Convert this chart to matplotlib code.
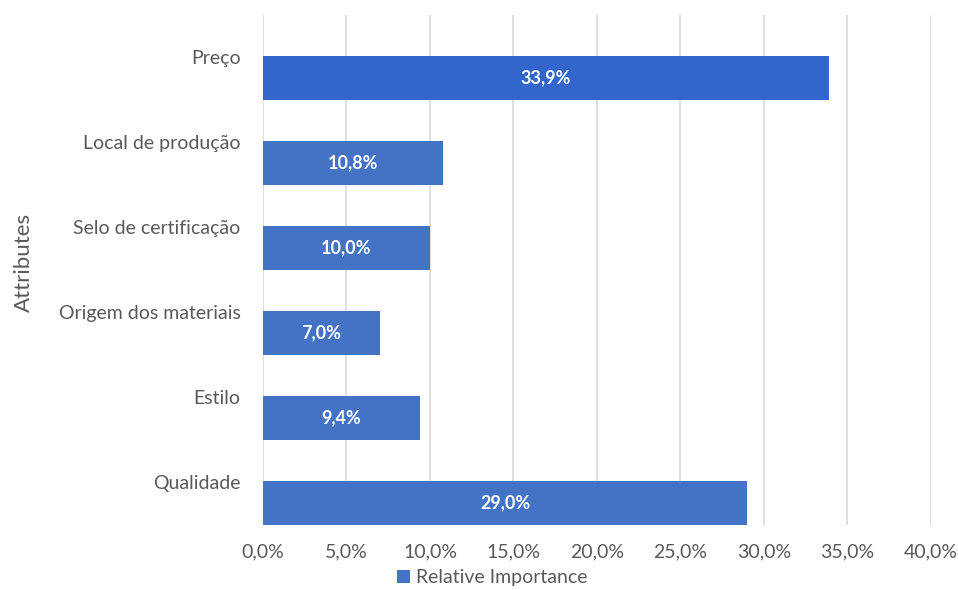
"""
Relative importance of attributes - horizontal bar chart
"""

import matplotlib
matplotlib.use("Agg")
import matplotlib.pyplot as plt
from matplotlib.patches import Patch

attributes = ["Preço", "Local de produção", "Selo de certificação",
              "Origem dos materiais", "Estilo", "Qualidade"]
importance = [33.9, 10.8, 10.0, 7.0, 9.4, 29.0]
x_ticks = [0, 5, 10, 15, 20, 25, 30, 35, 40]

plt.rcParams['font.family'] = ['Lato', 'DejaVu Sans']

text_grey = "#595959"
bar_colors = ["#3366CC"] + ["#4472C4"] * (len(attributes) - 1)


def fmt_pct(v):
    return f"{v:.1f}%".replace(".", ",")


fig = plt.figure(figsize=(9.58, 5.9), dpi=100)
ax = fig.add_axes([0.2745, 0.1102, 0.6973, 0.8644])

pos = list(range(len(attributes) - 1, -1, -1))
bars = ax.barh(pos, importance, height=0.52, color=bar_colors, zorder=3)

for b, v in zip(bars, importance):
    ax.text(v / 2, b.get_y() + b.get_height() / 2, fmt_pct(v),
            ha="center", va="center", color="white",
            fontsize=13, fontweight="bold", zorder=4)

ax.set_xlim(0, 40)
ax.set_ylim(-0.26, len(attributes) - 0.26)
ax.set_xticks(x_ticks)
ax.set_xticklabels([fmt_pct(t) for t in x_ticks])
ax.set_yticks([p + 0.25 for p in pos])
ax.set_yticklabels(attributes)

ax.tick_params(axis="both", length=0, labelsize=14, labelcolor=text_grey)
ax.tick_params(axis="x", pad=13)
ax.tick_params(axis="y", pad=16)

ax.grid(axis="x", color="#d9d9d9", linewidth=1.2, zorder=0)
for s in ax.spines.values():
    s.set_visible(False)

fig.text(0.025, 0.556, "Attributes", rotation=90, ha="center", va="center",
         fontsize=16, color=text_grey)

handle = Patch(facecolor="#4472C4", edgecolor="none")
fig.legend([handle], ["Relative Importance"], loc="center",
           bbox_to_anchor=(0.514, 0.021), frameon=False, fontsize=14,
           labelcolor=text_grey, handlelength=0.65, handleheight=0.65,
           handletextpad=0.3)

fig.savefig("out.png", dpi=100)
